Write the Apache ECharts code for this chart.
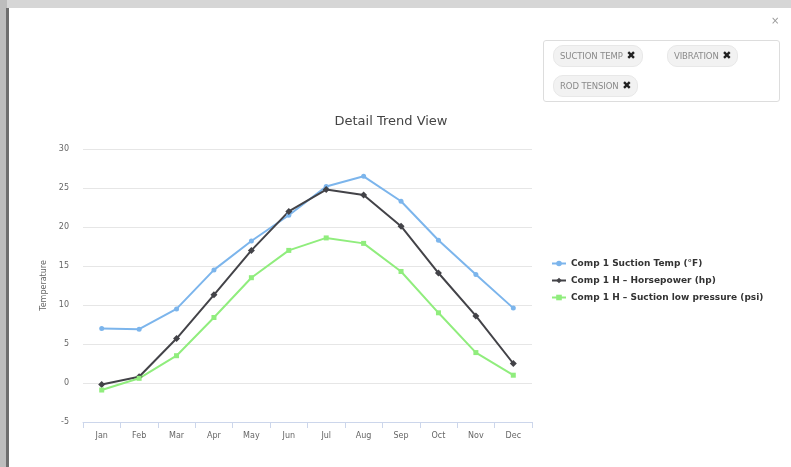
<!DOCTYPE html>
<html>
<head>
<meta charset="utf-8">
<script src="https://cdn.jsdelivr.net/npm/echarts@6/dist/echarts.min.js"></script>
<style>
html,body{margin:0;padding:0;width:791px;height:467px;overflow:hidden;background:#fff;font-family:"DejaVu Sans",sans-serif;}
#topband{position:absolute;left:0;top:0;width:791px;height:8px;background:#d6d6d6;}
#leftband{position:absolute;left:0;top:0;width:7px;height:467px;background:#bdbdbd;}
#leftline{position:absolute;left:6px;top:8px;width:3px;height:459px;background:#6e6e6e;}
#chart{position:absolute;left:0;top:0;width:791px;height:467px;}
#close{position:absolute;left:771px;top:15px;font-size:10px;color:#999;}
#tags{position:absolute;left:543px;top:40px;width:237px;height:62px;border:1px solid #ddd;border-radius:3px;background:#fff;box-sizing:border-box;}
.tag{position:absolute;height:20px;line-height:20px;border-radius:10px;background:#f2f2f2;border:1px solid #e8e8e8;color:#8a8a8a;font-size:8.5px;padding:0 6px;white-space:nowrap;letter-spacing:-0.1px;}
.tag b{color:#222;font-size:11px;margin-left:1px;}
</style>
</head>
<body>
<div id="topband"></div>
<div id="leftband"></div>
<div id="leftline"></div>
<div id="chart"></div>
<div id="close">×</div>
<div id="tags">
  <div class="tag" style="left:9px;top:4px;">SUCTION TEMP <b>✖</b></div>
  <div class="tag" style="left:123px;top:4px;">VIBRATION <b>✖</b></div>
  <div class="tag" style="left:9px;top:34px;">ROD TENSION <b>✖</b></div>
</div>
<script>
var months = ['Jan','Feb','Mar','Apr','May','Jun','Jul','Aug','Sep','Oct','Nov','Dec'];
var seriesNames = ['Comp 1 Suction Temp (°F)','Comp 1 H – Horsepower (hp)','Comp 1 H – Suction low pressure (psi)'];
var suctionTemp = [7.0, 6.9, 9.5, 14.5, 18.2, 21.5, 25.2, 26.5, 23.3, 18.3, 13.9, 9.6];
var horsepower = [-0.2, 0.8, 5.7, 11.3, 17.0, 22.0, 24.8, 24.1, 20.1, 14.1, 8.6, 2.5];
var suctionLow = [-0.9, 0.6, 3.5, 8.4, 13.5, 17.0, 18.6, 17.9, 14.3, 9.0, 3.9, 1.0];
var colors = ['#7cb5ec','#434348','#90ed7d'];
var symbols = ['circle','diamond','rect'];
var datasets = [suctionTemp, horsepower, suctionLow];

var chart = echarts.init(document.getElementById('chart'));
chart.setOption({
  animation:false,
  color:colors,
  textStyle:{fontFamily:'DejaVu Sans'},
  title:{text:'Detail Trend View',left:386,top:110,textAlign:'center',
    textStyle:{fontSize:13,fontWeight:'normal',color:'#444'}},
  legend:{orient:'vertical',left:546,top:254,itemGap:8,itemWidth:14,itemHeight:7,
    textStyle:{fontSize:9,fontWeight:'bold',color:'#333'},
    data:seriesNames},
  grid:{left:83,right:259,top:149,bottom:45,containLabel:false},
  xAxis:{type:'category',data:months,boundaryGap:true,
    axisLine:{onZero:false,lineStyle:{color:'#ccd6eb'}},
    axisTick:{show:true,alignWithLabel:false,length:6,lineStyle:{color:'#ccd6eb'}},
    axisLabel:{color:'#666',fontSize:8,margin:10}},
  yAxis:{type:'value',min:-5,max:30,interval:5,
    name:'Temperature',nameLocation:'middle',nameGap:30,nameRotate:90,
    nameTextStyle:{color:'#666',fontSize:8},
    axisLine:{show:false},axisTick:{show:false},
    axisLabel:{color:'#666',fontSize:8,margin:14},
    splitLine:{lineStyle:{color:'#e6e6e6'}}},
  series:datasets.map(function(d,i){
    return {name:seriesNames[i],type:'line',data:d,symbol:symbols[i],symbolSize:i===1?7:5,
      showAllSymbol:true,lineStyle:{width:2,color:colors[i]},itemStyle:{color:colors[i]}};
  })
});
</script>
</body>
</html>
